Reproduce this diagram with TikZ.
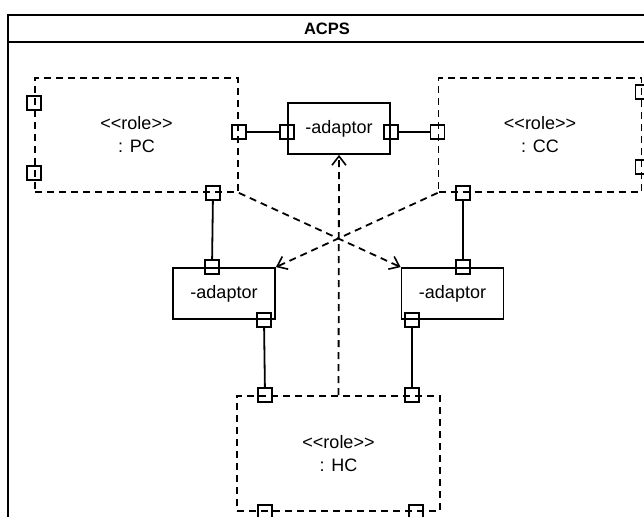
\documentclass[tikz,border=0pt]{standalone}
\usepackage{fontspec}
\setmainfont{Liberation Sans}
\usetikzlibrary{positioning,calc,arrows.meta}
\tikzset{rolebox/.style={draw, dash pattern=on 7pt off 5pt, line width=1.8pt, minimum width=203pt, minimum height=114pt, align=center, font=\fontsize{18}{23}\selectfont}}
\tikzset{adbox/.style={draw, line width=1.8pt, minimum width=102pt, minimum height=51pt, font=\fontsize{18}{20}\selectfont}}
\tikzset{port/.style={draw, line width=1.6pt, minimum size=14pt, inner sep=0pt}}
\tikzset{conn/.style={draw, line width=1.8pt}}
\tikzset{dep/.style={draw, line width=1.8pt, dash pattern=on 7pt off 5pt, -{Straight Barb[length=9pt,width=14pt,line width=1.6pt]}}}
\newcommand{\rolelabel}[1]{<\kern0pt<role>\kern0pt>\\: #1}

\begin{document}
\begin{tikzpicture}[x=1pt,y=-1pt]
			\clip (0,0) rectangle (644,516);
			\fill[white] (0,0) rectangle (644,516);
			% frame
			\draw[line width=2pt] (8,15) rectangle (646,540);
			\draw[line width=2pt] (8,42) -- (646,42);
			\node[font=\fontsize{16.5}{18}\selectfont\bfseries] (title) at (327,28.5) {ACPS};
			%
			\node[rolebox] (pc) at (136.5,135) {\rolelabel{PC}};
			\node[rolebox] (cc) at (540,135) {\rolelabel{CC}};
			\node[rolebox, minimum height=115pt] (hc) at (338.5,453.5) {\rolelabel{HC}};
			\node[adbox] (ad) at (339,128.5) {-adaptor};
			\node[adbox] (lad) at (224,293.5) {-adaptor};
			\node[adbox] (rad) at (452.5,293.5) {-adaptor};
			%
			\node[port] (pcL1) at (pc.west |- 0,103) {};
			\node[port] (pcL2) at (pc.west |- 0,173) {};
			\node[port] (pcR) at (pc.east |- 0,132) {};
			\node[port] (pcB) at (213,0 |- pc.south) {};
			\node[port] (adL) at (ad.west |- 0,132) {};
			\node[port] (adR) at (ad.east |- 0,132) {};
			\node[port] (ccL) at (cc.west |- 0,132) {};
			\node[port] (ccR1) at (cc.east |- 0,92) {};
			\node[port] (ccR2) at (cc.east |- 0,167) {};
			\node[port] (ccB) at (463,0 |- cc.south) {};
			\node[port] (ladT) at (212,0 |- lad.north) {};
			\node[port] (ladB) at (264,0 |- lad.south) {};
			\node[port] (radT) at (463,0 |- rad.north) {};
			\node[port] (radB) at (412,0 |- rad.south) {};
			\node[port] (hcT1) at (265,0 |- hc.north) {};
			\node[port] (hcT2) at (412,0 |- hc.north) {};
			\node[port] (hcB1) at (265,0 |- hc.south) {};
			\node[port] (hcB2) at (416,0 |- hc.south) {};
			%
			\draw[conn] (pcR) -- (adL);
			\draw[conn] (adR) -- (ccL);
			\draw[conn] (pcB) -- (ladT);
			\draw[conn] (ccB) -- (radT);
			\draw[conn] (ladB) -- (hcT1);
			\draw[conn] (radB) -- (hcT2);
			%
			\draw[dep] (pc.south east) -- (rad.north west);
			\draw[dep] (cc.south west) -- (lad.north east);
			\draw[dep] (hc.north) -- (ad.south);
		\end{tikzpicture}
\end{document}
